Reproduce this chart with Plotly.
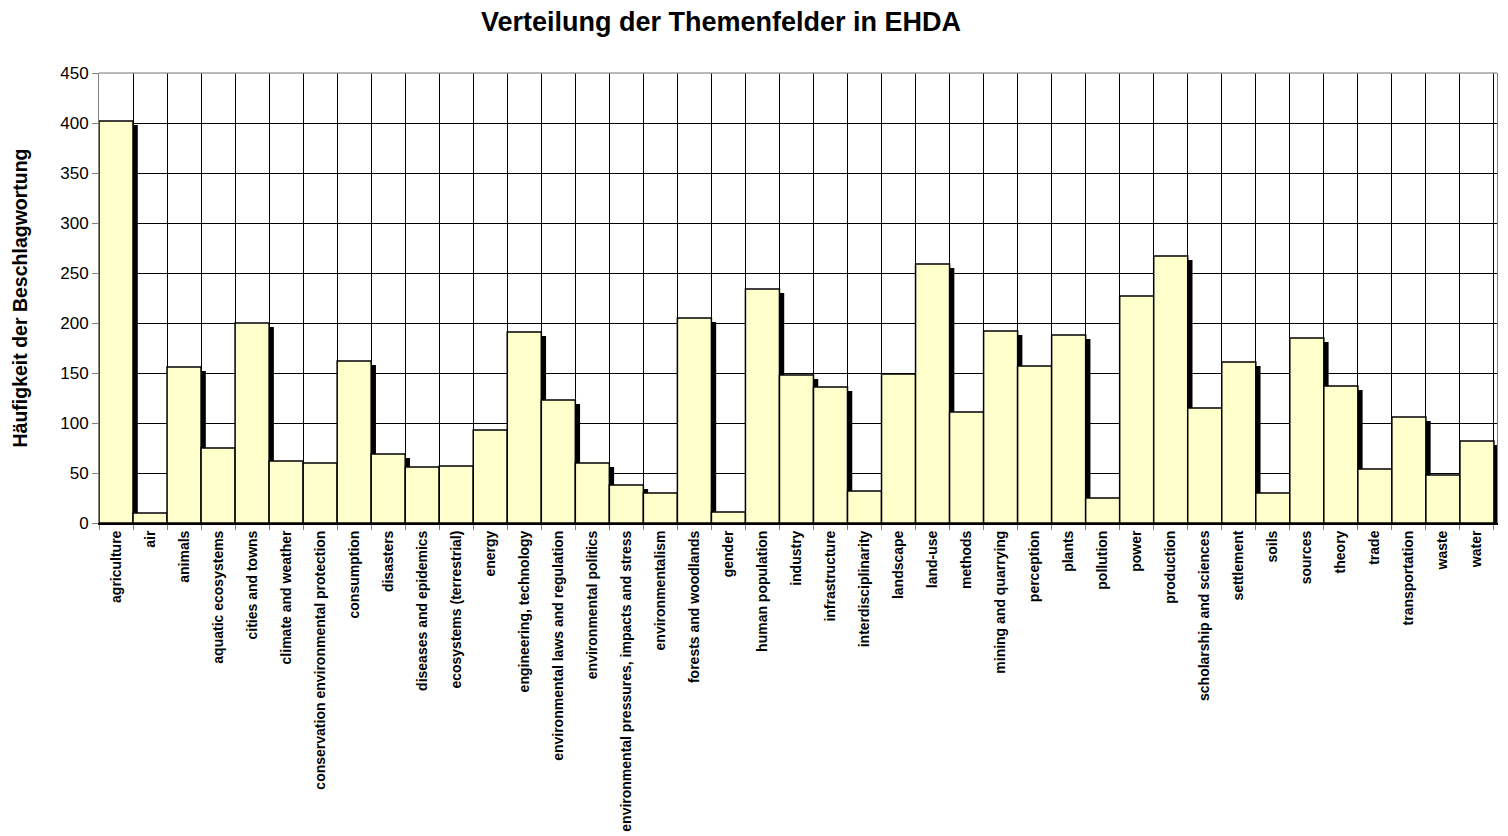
import plotly.graph_objects as go

categories = [
    "agriculture", "air", "animals", "aquatic ecosystems", "cities and towns",
    "climate and weather", "conservation environmental protection", "consumption",
    "disasters", "diseases and epidemics", "ecosystems (terrestrial)", "energy",
    "engineering, technology", "environmental laws and regulation",
    "environmental politics", "environmental pressures, impacts and stress",
    "environmentalism", "forests and woodlands", "gender", "human population",
    "industry", "infrastructure", "interdisciplinarity", "landscape", "land-use",
    "methods", "mining and quarrying", "perception", "plants", "pollution", "power",
    "production", "scholarship and sciences", "settlement", "soils", "sources",
    "theory", "trade", "transportation", "waste", "water",
]
counts = [
    402, 10, 156, 75, 200, 62, 60, 162, 69, 56, 57, 93, 191, 123, 60, 38, 30, 205,
    11, 234, 148, 136, 32, 149, 259, 111, 192, 157, 188, 25, 227, 267, 115, 161,
    30, 185, 137, 54, 106, 48, 82,
]
y_ticks = [0, 50, 100, 150, 200, 250, 300, 350, 400, 450]

title_text = "Verteilung der Themenfelder in EHDA"
y_title = "Häufigkeit der Beschlagwortung"

FONT = "Liberation Sans, Arial, sans-serif"
SHADOW_DX = 0.14   # shadow shift to the right (category units)
SHADOW_DY = 4      # shadow shift downward (value units ~ px)

fig = go.Figure()

# drop shadow (drawn first, covered by the following bars)
fig.add_trace(go.Bar(
    x=categories,
    y=[v - SHADOW_DY for v in counts],
    width=1,
    offset=-0.5 + SHADOW_DX,
    marker=dict(color="black", line=dict(width=0)),
    hoverinfo="skip",
    showlegend=False,
))

fig.add_trace(go.Bar(
    x=categories,
    y=counts,
    width=1,
    offset=-0.5,
    marker=dict(color="#FFFFCC", line=dict(color="black", width=1.5)),
    showlegend=False,
    name="",
))

fig.update_layout(
    width=1508,
    height=836,
    barmode="overlay",
    paper_bgcolor="white",
    plot_bgcolor="white",
    margin=dict(l=85, r=19, t=65, b=316),
    font=dict(family=FONT, color="black"),
    title=dict(
        text=title_text,
        font=dict(family=FONT, size=27, weight="bold", color="black"),
        x=713 / 1508, xref="container", xanchor="center",
        y=1 - 14 / 836, yref="container", yanchor="middle",
    ),
    xaxis=dict(
        type="category",
        range=[-0.5, len(categories) - 0.41],
        tickson="boundaries",
        showgrid=True, gridcolor="black", gridwidth=1,
        ticks="outside", ticklen=5, tickcolor="#808080", tickwidth=1,
        tickangle=-90,
        tickfont=dict(family=FONT, size=14, weight="bold", color="black"),
        showline=True, linecolor="black", linewidth=2,
        zeroline=False,
        fixedrange=True,
    ),
    yaxis=dict(
        range=[0, 450],
        tickvals=y_ticks,
        showgrid=True, gridcolor="black", gridwidth=1,
        ticks="outside", ticklen=6, tickcolor="#808080", tickwidth=1,
        tickfont=dict(family=FONT, size=17, color="black"),
        showline=True, linecolor="#808080", linewidth=1, mirror=True,
        zeroline=False,
        title=dict(text=y_title, standoff=27,
                   font=dict(family=FONT, size=19.5, weight="bold", color="black")),
        fixedrange=True,
    ),
    shapes=[dict(type="line", xref="paper", yref="paper", x0=0, x1=1, y0=1, y1=1,
                 line=dict(color="#A0A0A0", width=1.5))],
)

fig.write_html("out.html")
